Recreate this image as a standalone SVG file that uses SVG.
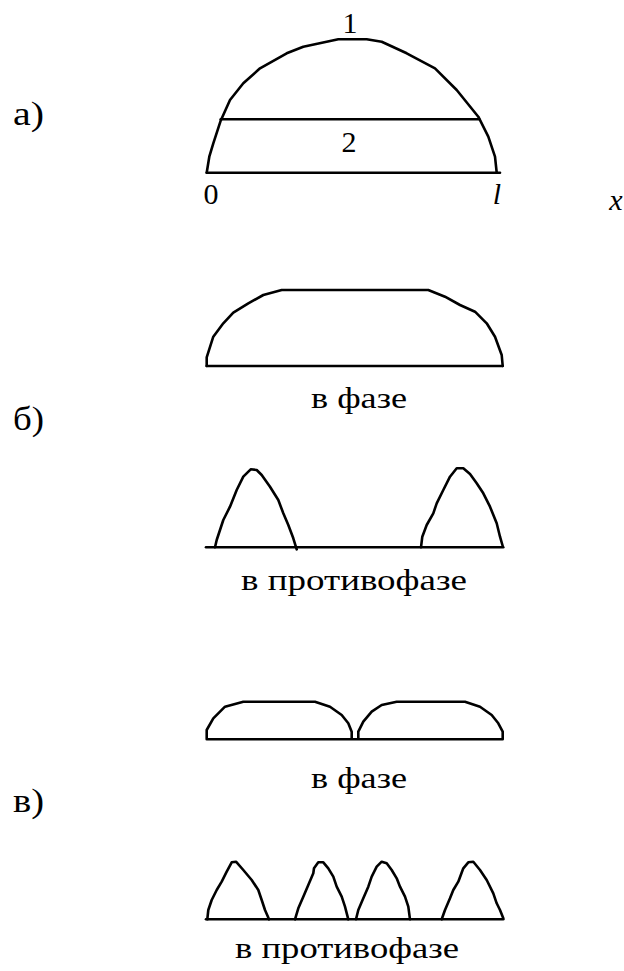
<svg xmlns="http://www.w3.org/2000/svg" width="624" height="971" viewBox="0 0 624 971">
<style>
.ln{fill:none;stroke:#000;stroke-width:2.6;stroke-linejoin:round;stroke-linecap:round}
.t{font-family:"Liberation Serif","DejaVu Serif","Noto Serif","Times New Roman",serif;font-size:30px;fill:#000}
.L{font-size:34px}
.i{font-style:italic}
.m{text-anchor:middle}
</style>
<rect width="624" height="971" fill="#fff"/>
<g id="label-a"><text class="t L" x="13" y="125" textLength="31" lengthAdjust="spacingAndGlyphs">а)</text></g>
<g id="label-b"><text class="t L" x="13" y="430" textLength="31" lengthAdjust="spacingAndGlyphs">б)</text></g>
<g id="label-v"><text class="t L" x="13" y="812" textLength="31" lengthAdjust="spacingAndGlyphs">в)</text></g>

<g id="plot-a">
<polyline class="ln" points="206.7,172.7 209.3,156.7 213.3,143.3 220.7,120.7 230,100 243.3,83.3 260,68.3 286.7,53.3 303.3,46.7 338.3,39.3 366.7,39.3 381.7,41.7 406.7,53.3 435,68.3 456.7,90 478.3,116.7 488.3,136.7 495,156.7 496.7,172.7"/>
<line class="ln" x1="220.7" y1="119.3" x2="479.3" y2="119.3"/>
<line class="ln" x1="206.7" y1="172.7" x2="500" y2="172.7"/>
<text class="t m" x="350" y="33">1</text>
<text class="t m" x="349" y="152">2</text>
<text class="t m" x="211" y="204">0</text>
<text class="t m i" x="497" y="204">l</text>
<text class="t m i" x="616" y="210">x</text>
</g>

<g id="plot-b1">
<polyline class="ln" points="206.7,366 206.7,357.3 213.3,336.7 223.3,323.3 233.3,312.7 248.3,303.3 263.3,295 281.7,290 428.3,290 445,296.7 460,305 475,311.7 486.7,323.3 495,336.7 501.7,355 502.7,366"/>
<line class="ln" x1="206.7" y1="366" x2="502.7" y2="366"/>
<text class="t" x="311" y="408" textLength="96" lengthAdjust="spacingAndGlyphs">в фазе</text>
</g>

<g id="plot-b2">
<line class="ln" x1="206" y1="547.3" x2="503.3" y2="547.3"/>
<polyline class="ln" points="215,547.3 216.7,540 223.3,520 230,506.7 236.7,490 243.3,476.7 250.7,469.3 256.7,470 261.7,475 270,486.7 278.3,500 283.3,513.3 288.3,525 293.3,538.3 296.7,549.3"/>
<polyline class="ln" points="421,547.3 422.3,536.7 426.7,525 433.3,513.3 436.7,503.3 443.3,490 450,476.7 456.7,468.3 463.3,468.3 470,474 476.7,483.3 483.3,493.3 490,506.7 496.7,523.3 500,536.7 502.7,546"/>
<text class="t" x="241" y="590" textLength="226" lengthAdjust="spacingAndGlyphs">в противофазе</text>
</g>

<g id="plot-v1">
<polyline class="ln" points="351.7,739.3 351.7,731.7 348.3,723.3 341.7,715 330,706.7 315,701.7 243.3,701.7 225,706.7 213.3,718.3 206.7,730 206.7,739.3 502.7,739.3 502.7,731.7 498.3,723.3 491.7,715 480,706.7 465,701.7 396.7,701.7 381.7,705 371.7,711.7 363.3,721.7 358.3,731.7 358.3,739.3"/>
<text class="t" x="311" y="788" textLength="96" lengthAdjust="spacingAndGlyphs">в фазе</text>
</g>

<g id="plot-v2">
<line class="ln" x1="206" y1="919.3" x2="503.3" y2="919.3"/>
<polyline class="ln" points="207.3,919.3 208.3,910 211.7,900 216.7,890 221.7,881.7 226.7,871.7 231.7,862.3 236,861.7 243.3,870 251.7,880 258.3,890 261.7,900 265,910 269,919.3"/>
<polyline class="ln" points="295,919.3 298.3,908.3 303.3,896.7 308.3,885 313.3,873.3 314,868.3 318.3,862.3 323.3,862.3 328.3,868.3 333.3,876.7 336.7,886.7 341.7,896.7 345,906.7 348.3,919.3"/>
<polyline class="ln" points="356,919.3 358.3,910 363.3,898.3 368.3,886.7 371.7,876.7 376.7,866.7 381.7,861.7 386.7,863.3 391.7,870 396.7,878.3 400,886.7 405,896.7 408.3,906.7 410,919.3"/>
<polyline class="ln" points="441.7,919.3 445,910 450,898.3 453.3,890 458.3,881.7 463.3,868.3 468.3,862.3 473.3,861.7 480,870 486.7,880 493.3,893.3 496.7,903.3 500,910 503.3,918.3"/>
<text class="t" x="235" y="958" textLength="224" lengthAdjust="spacingAndGlyphs">в противофазе</text>
</g>
</svg>
